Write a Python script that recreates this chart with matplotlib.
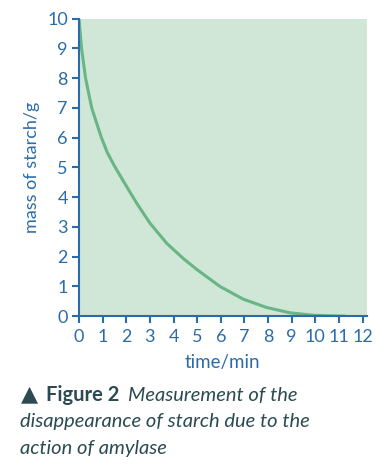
import matplotlib
matplotlib.use("Agg")
import matplotlib.pyplot as plt

# curve
time_min = [0, 0.11, 0.28, 0.54, 0.95, 1.2, 1.5, 1.87, 2.44, 3.0, 3.71,
            4.41, 5.0, 5.96, 6.95, 7.94, 8.93, 9.91, 10.6, 11.25]
mass_g = [10, 9, 8, 7, 6, 5.5, 5.05, 4.55, 3.8, 3.13, 2.45,
          1.94, 1.56, 1.0, 0.57, 0.29, 0.11, 0.03, 0.01, 0.0]
x_ticks = list(range(0, 13))
y_ticks = list(range(0, 11))

blue = '#2b6ca8'
fill = '#d0e6d6'
line = '#68b585'
dark = '#2b4a52'

fig = plt.figure(figsize=(3.89, 4.69), dpi=100)
ax = fig.add_axes([0.203, 0.326, 0.740, 0.634])
ax.set_facecolor(fill)
ax.plot(time_min, mass_g, color=line, lw=2.2, solid_capstyle='round')

ax.set_xlim(0, 12.18)
ax.set_ylim(0, 10)
ax.set_xticks(x_ticks)
ax.set_yticks(y_ticks)
for s in ['top', 'right']:
    ax.spines[s].set_visible(False)
for s in ['left', 'bottom']:
    ax.spines[s].set_color(blue)
    ax.spines[s].set_linewidth(1.5)
ax.tick_params(colors=blue, width=1.5, length=5, labelsize=13, pad=3)
ax.tick_params(axis='x', pad=4)
for lab in ax.get_xticklabels() + ax.get_yticklabels():
    lab.set_family('Lato')
ax.set_ylabel('mass of starch/g', color=blue, fontsize=13, family='Lato',
              labelpad=5)
ax.set_xlabel('time/min', color=blue, fontsize=13.5, family='Lato',
              labelpad=7)

fig.text(0.054, 0.1456, '▲', color=dark, fontsize=16, family='DejaVu Sans',
         va='baseline')
fig.text(0.118, 0.1456, 'Figure 2', color=dark, fontsize=14.5, family='Lato',
         fontweight='bold', va='baseline')
fig.text(0.33, 0.1456, 'Measurement of the', color=dark, fontsize=14.5,
         family='Lato', style='italic', va='baseline')
fig.text(0.052, 0.089, 'disappearance of starch due to the', color=dark,
         fontsize=14.5, family='Lato', style='italic', va='baseline')
fig.text(0.052, 0.032, 'action of amylase', color=dark, fontsize=14.5,
         family='Lato', style='italic', va='baseline')

fig.savefig('out.png', dpi=100)
